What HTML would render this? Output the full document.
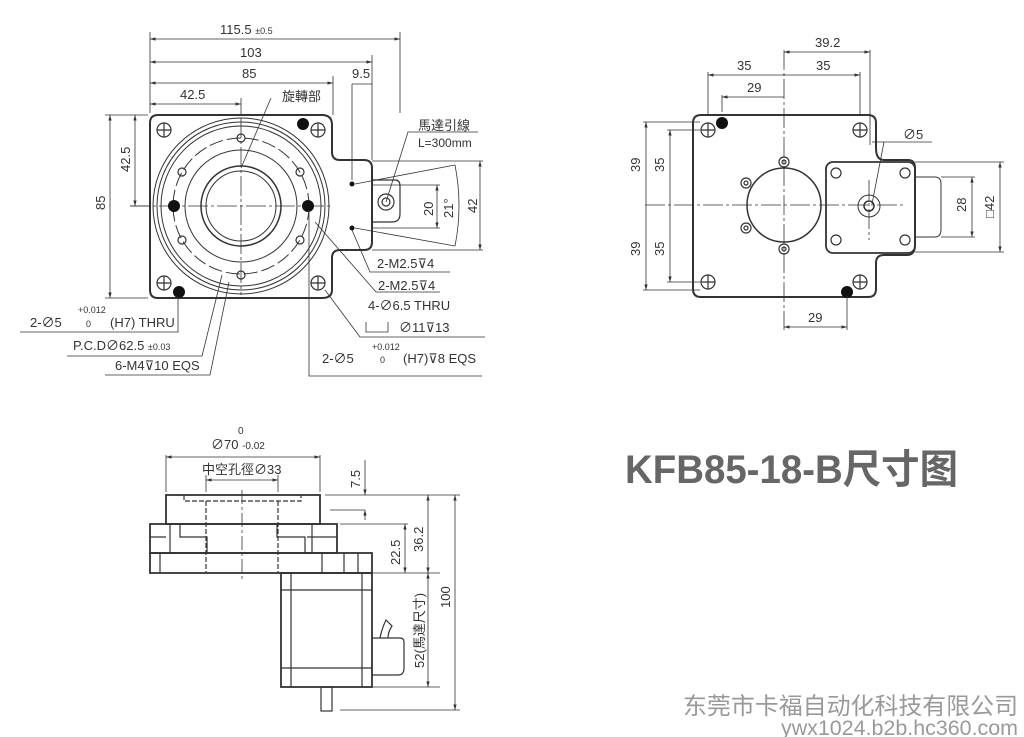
<!DOCTYPE html>
<html><head><meta charset="utf-8"><style>
html,body{margin:0;padding:0;background:#fff;}
svg{display:block}
text{font-family:"Liberation Sans","Noto Sans CJK SC",sans-serif;fill:#333}
.d{font-family:"Liberation Sans Narrow","Liberation Sans","Noto Sans CJK SC",sans-serif;font-size:13px}
</style></head><body>
<svg width="1024" height="737" viewBox="0 0 1024 737" xmlns="http://www.w3.org/2000/svg">
<defs>
<marker id="a" viewBox="0 0 10 10" refX="10" refY="5" markerWidth="7" markerHeight="7" orient="auto-start-reverse"><path d="M0,2 L10,5 L0,8z" fill="#333"/></marker>
</defs>
<g stroke="#333" fill="none" stroke-width="1">
<path d="M158,115 H322 Q332,115 332,125 V152 Q332,160 340,160 H364 Q372,160 372,168 V242 Q372,250 364,250 H340 Q332,250 332,258 V290 Q332,298 322,298 H158 Q150,298 150,290 V123 Q150,115 158,115Z" stroke-width="2"/>
<circle cx="241" cy="206" r="88"/>
<circle cx="241" cy="206" r="84"/>
<circle cx="241" cy="206" r="80"/>
<circle cx="241" cy="206" r="68" stroke-dasharray="14,4"/>
<circle cx="241" cy="206" r="56"/>
<circle cx="241" cy="206" r="40" stroke-width="1.5"/>
<circle cx="241" cy="206" r="35"/>
<path d="M130,206 H330 M241,118 V295" stroke-dasharray="20,3,3,3" stroke-width="0.8"/>
<g stroke-width="1.2">
<circle cx="164" cy="130" r="7"/><path d="M157,130h14M164,123v14"/>
<circle cx="318" cy="130" r="7"/><path d="M311,130h14M318,123v14"/>
<circle cx="164" cy="283" r="7"/><path d="M157,283h14M164,276v14"/>
<circle cx="318" cy="283" r="7"/><path d="M311,283h14M318,276v14"/>
<circle cx="241" cy="138" r="4"/><circle cx="241" cy="275" r="4"/>
<circle cx="182" cy="172" r="4"/><circle cx="300" cy="172" r="4"/>
<circle cx="182" cy="240" r="4"/><circle cx="300" cy="240" r="4"/>
<circle cx="386" cy="202" r="8"/><circle cx="386" cy="202" r="4"/>
<path d="M372,180 H395 Q400,180 400,186 V214 Q400,222 392,222 H372"/>
</g>
<g fill="#111" stroke="none">
<circle cx="174" cy="206" r="6"/><circle cx="308" cy="206" r="6"/>
<circle cx="303" cy="124" r="6"/><circle cx="179" cy="292" r="6"/>
<circle cx="352" cy="184" r="2.5"/><circle cx="352" cy="228" r="2.5"/>
</g>
<g stroke-width="0.8">
<path d="M150,113V32 M400,113V32 M372,160V55 M333,115V76 M241,115V98 M352,180V84"/>
<path d="M150,39H400" marker-start="url(#a)" marker-end="url(#a)"/>
<path d="M150,62H372" marker-start="url(#a)" marker-end="url(#a)"/>
<path d="M150,83H333" marker-start="url(#a)" marker-end="url(#a)"/>
<path d="M150,104H241" marker-start="url(#a)" marker-end="url(#a)"/>
<path d="M352,84H372"/>
<path d="M105,115H148 M105,298H148 M130,206H150"/>
<path d="M110,115V298" marker-start="url(#a)" marker-end="url(#a)"/>
<path d="M135,115V206" marker-start="url(#a)" marker-end="url(#a)"/>
<path d="M372,161H483 M372,250H483 M355,184 L455,165 M355,228 L455,246 M372,185H440 M372,228H440"/>
<path d="M480,161V250" marker-start="url(#a)" marker-end="url(#a)"/>
<path d="M437,185V228" marker-start="url(#a)" marker-end="url(#a)"/>
<path d="M455,165Q463,206 455,246"/>
<path d="M386,202L408,132H478"/>
<path d="M352,230L370,272H450 M315,222L376,292H440 M325,290L360,337H485 M309,210V376H482"/>
<path d="M20,332H178V296 M67,356H202L222,275 M105,375H210L229,282 M271,98L241,168"/>
<path d="M366,322V332H388V322"/>
</g>
</g>
<g class="d">
<text x="220" y="34">115.5 <tspan font-size="9">±0.5</tspan></text>
<text x="240" y="57">103</text>
<text x="242" y="78">85</text>
<text x="180" y="99">42.5</text>
<text x="352" y="78">9.5</text>
<text x="282" y="101" font-size="13">旋轉部</text>
<text x="418" y="130" font-size="13">馬達引線</text>
<text x="418" y="147" font-size="12">L=300mm</text>
<text transform="translate(105,210) rotate(-90)">85</text>
<text transform="translate(130,172) rotate(-90)">42.5</text>
<text transform="translate(433,216) rotate(-90)">20</text>
<text transform="translate(453,218) rotate(-90)">21°</text>
<text transform="translate(477,213) rotate(-90)">42</text>
<text x="377" y="268">2-M2.5⊽4</text>
<text x="378" y="290">2-M2.5⊽4</text>
<text x="368" y="310">4-∅6.5 THRU</text>
<text x="399" y="332">∅11⊽13</text>
<text x="372" y="350" font-size="9">+0.012</text>
<text x="322" y="363">2-∅5</text><text x="380" y="363" font-size="9">0</text><text x="403" y="363">(H7)⊽8 EQS</text>
<text x="78" y="313" font-size="9">+0.012</text>
<text x="30" y="327">2-∅5</text><text x="86" y="327" font-size="9">0</text><text x="110" y="327">(H7) THRU</text>
<text x="73" y="350">P.C.D∅62.5 <tspan font-size="9">±0.03</tspan></text>
<text x="115" y="370">6-M4⊽10 EQS</text>
</g>

<g stroke="#333" fill="none" stroke-width="1">
<path d="M701,115H868Q876,115 876,123V148Q876,160 884,160H908Q915,160 915,168V245Q915,255 907,255H884Q876,255 876,263V289Q876,297 868,297H701Q693,297 693,289V123Q693,115 701,115Z" stroke-width="2"/>
<rect x="826" y="162" width="89" height="91" rx="7" stroke-width="1.8"/>
<path d="M915,177H935Q941,177 941,184V229Q941,237 935,237H915"/>
<circle cx="784" cy="205" r="37" stroke-width="1.5"/>
<circle cx="869" cy="206" r="11"/><circle cx="869" cy="206" r="5" stroke-width="1.5"/>
<g stroke-width="1.2">
<circle cx="708" cy="130" r="7"/><path d="M701,130h14M708,123v14"/>
<circle cx="860" cy="130" r="7"/><path d="M853,130h14M860,123v14"/>
<circle cx="708" cy="282" r="7"/><path d="M701,282h14M708,275v14"/>
<circle cx="860" cy="282" r="7"/><path d="M853,282h14M860,275v14"/>
<circle cx="784" cy="162" r="5"/><circle cx="784" cy="162" r="2"/>
<circle cx="784" cy="249" r="5"/><circle cx="784" cy="249" r="2"/>
<circle cx="746" cy="183" r="5"/><circle cx="746" cy="183" r="2"/>
<circle cx="746" cy="228" r="5"/><circle cx="746" cy="228" r="2"/>
<circle cx="836" cy="173" r="5"/><circle cx="905" cy="173" r="5"/>
<circle cx="836" cy="240" r="5"/><circle cx="905" cy="240" r="5"/>
</g>
<g fill="#111" stroke="none"><circle cx="722" cy="123" r="6"/><circle cx="847" cy="292" r="6"/></g>
<g stroke-width="0.8">
<path d="M645,205H905 M784,50V330 M869,180V240" stroke-dasharray="20,3,3,3"/>
<path d="M708,115V72 M722,112V95 M860,115V72 M870,145V50 M847,296V330"/>
<path d="M784,52H870" marker-start="url(#a)" marker-end="url(#a)"/>
<path d="M708,75H860" marker-start="url(#a)" marker-end="url(#a)"/>
<path d="M722,97H784" marker-start="url(#a)"/>
<path d="M784,327H847" marker-start="url(#a)" marker-end="url(#a)"/>
<path d="M643,122H700 M667,130H700 M643,290H700 M667,282H700"/>
<path d="M646,122V290" marker-start="url(#a)" marker-end="url(#a)"/>
<path d="M670,130V282" marker-start="url(#a)" marker-end="url(#a)"/>
<path d="M872,142H932 M872,204L884,142"/>
<path d="M915,162H1004 M915,252H1004 M941,177H975 M941,237H975"/>
<path d="M1000,162V252" marker-start="url(#a)" marker-end="url(#a)"/>
<path d="M972,177V237" marker-start="url(#a)" marker-end="url(#a)"/>
</g>
</g>
<g class="d">
<text x="815" y="47">39.2</text>
<text x="737" y="70">35</text><text x="816" y="70">35</text>
<text x="747" y="92">29</text>
<text x="808" y="322">29</text>
<text x="903" y="139">∅5</text>
<text transform="translate(640,172) rotate(-90)">39</text>
<text transform="translate(664,172) rotate(-90)">35</text>
<text transform="translate(640,256) rotate(-90)">39</text>
<text transform="translate(664,256) rotate(-90)">35</text>
<text transform="translate(966,212) rotate(-90)">28</text>
<text transform="translate(994,218) rotate(-90)">□42</text>
</g>

<g stroke="#333" fill="none" stroke-width="1.2">
<rect x="166" y="495" width="154" height="29" stroke-width="1.8"/>
<path d="M184,495V501H301V495" stroke-dasharray="5,2"/>
<rect x="150" y="524" width="187" height="29" stroke-width="1.8"/>
<rect x="150" y="553" width="222" height="20" stroke-width="1.8"/>
<path d="M170,524V553 M180,524V537H207V553 M166,537H150 M277,524V537H305V553 M312,524V553 M307,537H337 M160,553V573 M322,553V573 M344,553V573 M358,553V573"/>
<path d="M206,501V573 M278,501V573" stroke-dasharray="5,2"/>
<path d="M242,490V580" stroke-dasharray="14,3,3,3" stroke-width="0.8"/>
<rect x="281" y="573" width="91" height="114" stroke-width="1.8"/>
<path d="M281,590H372 M281,668H372 M291,573V687 M362,573V687"/>
<rect x="321" y="687" width="11" height="24"/>
<path d="M372,638H400Q404,638 404,642V668Q404,675 398,675H372"/>
<path d="M380,638Q382,628 386,620L392,626Q388,632 388,638"/>
<g stroke-width="0.8">
<path d="M166,492V455 M320,492V455 M206,492V475 M278,492V475"/>
<path d="M166,457H320" marker-start="url(#a)" marker-end="url(#a)"/>
<path d="M206,480H278" marker-start="url(#a)" marker-end="url(#a)"/>
<path d="M325,495H460 M330,510H365 M340,524H408 M372,573H440 M372,687H440 M340,710H460"/>
<path d="M365,460V495" marker-end="url(#a)"/><path d="M365,520V510" marker-end="url(#a)"/>
<path d="M405,524V573" marker-start="url(#a)" marker-end="url(#a)"/>
<path d="M428,495V573" marker-start="url(#a)" marker-end="url(#a)"/>
<path d="M428,573V687" marker-start="url(#a)" marker-end="url(#a)"/>
<path d="M455,495V710" marker-start="url(#a)" marker-end="url(#a)"/>
</g>
</g>
<g class="d">
<text x="238" y="434" font-size="10">0</text>
<text x="211" y="449">∅70 <tspan font-size="10">-0.02</tspan></text>
<text x="202" y="474">中空孔徑∅33</text>
<text transform="translate(360,488) rotate(-90)">7.5</text>
<text transform="translate(400,565) rotate(-90)">22.5</text>
<text transform="translate(423,552) rotate(-90)">36.2</text>
<text transform="translate(450,608) rotate(-90)">100</text>
<text transform="translate(424,668) rotate(-90)">52(馬達尺寸)</text>
</g>

<text x="625" y="483" font-size="40" font-weight="bold" textLength="333" lengthAdjust="spacingAndGlyphs" style="fill:#666">KFB85-18-B尺寸图</text>
<text x="683" y="714" font-size="23.5" textLength="335" lengthAdjust="spacingAndGlyphs" style="fill:#999">东莞市卡福自动化科技有限公司</text>
<text x="781" y="735" font-size="21" textLength="237" lengthAdjust="spacingAndGlyphs" style="fill:#999">ywx1024.b2b.hc360.com</text>
</svg>
</body></html>
